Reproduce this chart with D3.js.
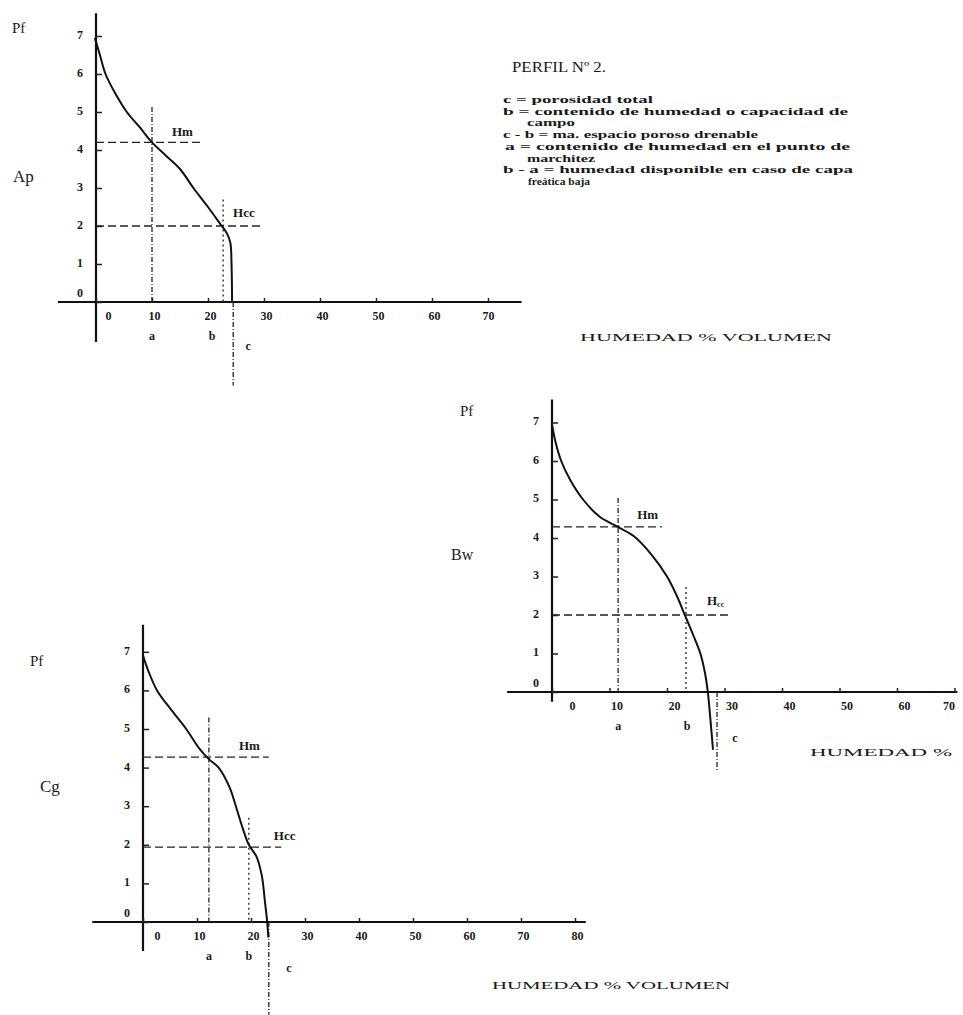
<!DOCTYPE html>
<html>
<head>
<meta charset="utf-8">
<script src="https://cdn.jsdelivr.net/npm/d3@7"></script>
<style>
body { margin: 0; background: #fff; }
svg text { font-family: "Liberation Serif", "DejaVu Serif", serif; fill: #1a1a1a; }
.axis-line { stroke: #111; stroke-width: 2.2; }
.curve { fill: none; stroke: #111; stroke-width: 2; }
.guide { stroke: #222; stroke-width: 1.3; fill: none; }
</style>
</head>
<body>
<svg id="chart" width="963" height="1015"></svg>
<script>
// ---- data ----
var pfTicks = [0, 1, 2, 3, 4, 5, 6, 7];

// horizon Ap : [humedad % volumen, pF]
var apHumTicks = [0, 10, 20, 30, 40, 50, 60, 70];
var apCurve = [[-0.2, 6.95], [0.7, 6.5], [1.7, 6], [3.4, 5.5], [5.5, 5], [7.8, 4.6], [10, 4.2],
               [12.5, 3.85], [15, 3.5], [17.4, 3], [20, 2.5], [22.2, 2.05], [23.4, 1.8],
               [24.0, 1.55], [24.2, 1.0], [24.3, 0]];
var apMarks = [10, 22.7, 24.5];      // a, b, c
var apLevels = [4.2, 2.0];           // Hm, Hcc

// horizon Bw
var bwHumTicks = [0, 10, 20, 30, 40, 50, 60, 70];
var bwCurve = [[0, 6.95], [0.6, 6.5], [1.6, 6], [3.2, 5.5], [5.4, 5], [8.3, 4.55], [11.3, 4.3],
               [14.2, 4.05], [17.4, 3.55], [20, 3], [21.7, 2.5], [23.1, 2], [24.5, 1.5],
               [25.8, 1], [26.6, 0.5], [27.1, 0], [27.6, -0.8], [28, -1.5]];
var bwMarks = [11.5, 23.3, 28.7];
var bwLevels = [4.29, 2.0];

// horizon Cg
var cgHumTicks = [0, 10, 20, 30, 40, 50, 60, 70, 80];
var cgCurve = [[0, 6.9], [1, 6.5], [2.6, 6], [5.2, 5.5], [8, 5], [10.4, 4.5], [12.2, 4.22],
               [14, 4], [16, 3.5], [17.2, 3], [18.3, 2.5], [19.6, 2], [21, 1.7], [22, 1.2],
               [22.6, 0.5], [23, 0], [23.2, -0.4]];
var cgMarks = [12.2, 19.6, 23.3];
var cgLevels = [4.27, 1.94];

var markNames = ["a", "b", "c"];
var levelNames = ["Hm", "Hcc"];

var title = "PERFIL Nº 2.";
var legendLines = [
  "c = porosidad total",
  "b = contenido de humedad o capacidad de",
  "campo",
  "c - b = ma. espacio poroso drenable",
  "a = contenido de humedad en el punto de",
  "marchitez",
  "b - a = humedad disponible en caso de capa",
  "freática baja"
];

// ---- layout ----
var svg = d3.select("#chart");

var panels = [
  { name: "Ap", hum: apHumTicks, curve: apCurve, marks: apMarks, levels: apLevels,
    xMax: 70, left: 96, kx: 5.6, base: 302, ky: 38,
    xExt: [-6.8, 76], yExt: [-1.05, 7.6],
    hmEnd: 18.6, hccEnd: 29.6, aTop: 5.13, bTop: 2.7, cBottom: -2.2,
    hmOff: [20, -6], hccOff: [10, -9], bLabelDx: -11, cOff: [15, 48],
    tickDx: 2, zeroDx: 12, lastDx: 0,
    pf: [12, 33], nameXY: [13, 182], nameSize: 17,
    humLabel: "HUMEDAD % VOLUMEN", humXY: [580, 341], humLen: 252 },
  { name: "Bw", hum: bwHumTicks, curve: bwCurve, marks: bwMarks, levels: bwLevels,
    xMax: 70, left: 552, kx: 5.75, base: 692, ky: 38.5,
    xExt: [-7.8, 70.5], yExt: [-0.25, 7.6],
    hmEnd: 19.1, hccEnd: 30.6, aTop: 5.04, bTop: 2.73, cBottom: -2.03,
    hmOff: [19, -8], hccOff: [21, -10], bLabelDx: 1, cOff: [18, 50],
    tickDx: 7, zeroDx: 20, lastDx: -6,
    pf: [460, 416], nameXY: [451, 560], nameSize: 16,
    humLabel: "HUMEDAD %", humXY: [810, 756], humLen: 142 },
  { name: "Cg", hum: cgHumTicks, curve: cgCurve, marks: cgMarks, levels: cgLevels,
    xMax: 80, left: 143, kx: 5.4, base: 922, ky: 38.6,
    xExt: [-9.4, 82], yExt: [-0.75, 7.7],
    hmEnd: 23.3, hccEnd: 25.6, aTop: 5.3, bTop: 2.7, cBottom: -2.4,
    hmOff: [30, -7], hccOff: [25, -7], bLabelDx: 0, cOff: [20, 50],
    tickDx: 2, zeroDx: 14, lastDx: 2,
    pf: [30, 666], nameXY: [40, 792], nameSize: 17,
    humLabel: "HUMEDAD % VOLUMEN", humXY: [492, 989], humLen: 238 }
];

panels.forEach(function (p) {
  var x = d3.scaleLinear().domain([0, p.xMax]).range([p.left, p.left + p.xMax * p.kx]);
  var y = d3.scaleLinear().domain([0, 7]).range([p.base, p.base - 7 * p.ky]);
  var g = svg.append("g");

  // axis lines, drawn longer than the domain like the hand drawing
  g.append("line").attr("class", "axis-line")
    .attr("x1", x(p.xExt[0])).attr("x2", x(p.xExt[1]))
    .attr("y1", y(0)).attr("y2", y(0));
  g.append("line").attr("class", "axis-line")
    .attr("x1", x(0)).attr("x2", x(0))
    .attr("y1", y(p.yExt[0])).attr("y2", y(p.yExt[1]));

  // x ticks
  var last = p.hum[p.hum.length - 1];
  var xAxis = d3.axisBottom(x).tickValues(p.hum).tickFormat(d3.format("d"))
    .tickSizeInner(-4).tickSizeOuter(0).tickPadding(9);
  var gx = g.append("g").attr("transform", "translate(0," + y(0) + ")").call(xAxis);
  gx.select(".domain").remove();
  gx.selectAll(".tick line").attr("stroke", "#222").attr("stroke-width", 1.5);
  gx.selectAll(".tick text")
    .attr("font-family", "Liberation Serif, serif").attr("font-size", 12).attr("font-weight", "bold")
    .attr("fill", "#1a1a1a")
    .attr("dx", function (d) { return d === 0 ? p.zeroDx : (d === last ? p.lastDx : p.tickDx); });

  // y ticks
  var yAxis = d3.axisLeft(y).tickValues(pfTicks).tickFormat(d3.format("d"))
    .tickSizeInner(-6).tickSizeOuter(0).tickPadding(13);
  var gy = g.append("g").attr("transform", "translate(" + x(0) + ",0)").call(yAxis);
  gy.select(".domain").remove();
  gy.selectAll(".tick line").attr("stroke", "#222").attr("stroke-width", 1.5);
  gy.selectAll(".tick text")
    .attr("font-family", "Liberation Serif, serif").attr("font-size", 12).attr("font-weight", "bold")
    .attr("fill", "#1a1a1a")
    .attr("dy", function (d) { return d === 0 ? "-0.5em" : "0.2em"; });

  // guide lines
  var hm = p.levels[0], hcc = p.levels[1];
  var a = p.marks[0], b = p.marks[1], c = p.marks[2];
  g.append("line").attr("class", "guide").attr("stroke-dasharray", "8,4")
    .attr("x1", x(0)).attr("x2", x(p.hmEnd)).attr("y1", y(hm)).attr("y2", y(hm));
  g.append("line").attr("class", "guide").attr("stroke-dasharray", "8,4")
    .attr("x1", x(0)).attr("x2", x(p.hccEnd)).attr("y1", y(hcc)).attr("y2", y(hcc));
  g.append("line").attr("class", "guide").attr("stroke-dasharray", "5,2,1,2")
    .attr("x1", x(a)).attr("x2", x(a)).attr("y1", y(p.aTop)).attr("y2", y(0));
  g.append("line").attr("class", "guide").attr("stroke-dasharray", "2,3").attr("stroke", "#555")
    .attr("x1", x(b)).attr("x2", x(b)).attr("y1", y(p.bTop)).attr("y2", y(0));
  g.append("line").attr("class", "guide").attr("stroke-dasharray", "5,2,1,2")
    .attr("x1", x(c)).attr("x2", x(c)).attr("y1", y(0)).attr("y2", y(p.cBottom));

  // retention curve
  var line = d3.line()
    .x(function (d) { return x(d[0]); })
    .y(function (d) { return y(d[1]); })
    .curve(d3.curveCatmullRom.alpha(0.5));
  g.append("path").datum(p.curve).attr("class", "curve").attr("d", line);

  // Hm / Hcc labels
  g.append("text").attr("x", x(a) + p.hmOff[0]).attr("y", y(hm) + p.hmOff[1])
    .attr("font-size", 13).attr("font-weight", "bold").text(levelNames[0]);
  var hccText = g.append("text").attr("x", x(b) + p.hccOff[0]).attr("y", y(hcc) + p.hccOff[1])
    .attr("font-size", 13).attr("font-weight", "bold");
  if (p.name === "Bw") {
    hccText.append("tspan").text("H");
    hccText.append("tspan").attr("font-size", 8).attr("dy", 2).text("cc");
  } else {
    hccText.text(levelNames[1]);
  }

  // a, b, c under the axis
  g.append("text").attr("x", x(a)).attr("y", y(0) + 38).attr("text-anchor", "middle")
    .attr("font-size", 12).attr("font-weight", "bold").text(markNames[0]);
  g.append("text").attr("x", x(b) + p.bLabelDx).attr("y", y(0) + 38).attr("text-anchor", "middle")
    .attr("font-size", 12).attr("font-weight", "bold").text(markNames[1]);
  g.append("text").attr("x", x(c) + p.cOff[0]).attr("y", y(0) + p.cOff[1]).attr("text-anchor", "middle")
    .attr("font-size", 12).attr("font-weight", "bold").text(markNames[2]);

  // axis names
  g.append("text").attr("x", p.pf[0]).attr("y", p.pf[1]).attr("font-size", 15).text("Pf");
  g.append("text").attr("x", p.nameXY[0]).attr("y", p.nameXY[1]).attr("font-size", p.nameSize).text(p.name);
  g.append("text").attr("x", p.humXY[0]).attr("y", p.humXY[1]).attr("font-size", 11)
    .attr("textLength", p.humLen).attr("lengthAdjust", "spacingAndGlyphs").text(p.humLabel);
});

// title and legend
svg.append("text").attr("x", 512).attr("y", 72).attr("font-size", 15)
  .attr("textLength", 94).attr("lengthAdjust", "spacingAndGlyphs").text(title);

var legendLen = [150, 345, 48, 255, 345, 68, 350, 62];
var legendX = [503, 503, 527, 503, 505, 527, 503, 528];
svg.append("g").selectAll("text").data(legendLines).enter().append("text")
  .attr("x", function (d, i) { return legendX[i]; })
  .attr("y", function (d, i) { return 103 + i * 11.7; })
  .attr("font-size", 9.8)
  .attr("font-weight", "bold")
  .attr("textLength", function (d, i) { return legendLen[i]; })
  .attr("lengthAdjust", "spacingAndGlyphs")
  .text(function (d) { return d; });
</script>
</body>
</html>
